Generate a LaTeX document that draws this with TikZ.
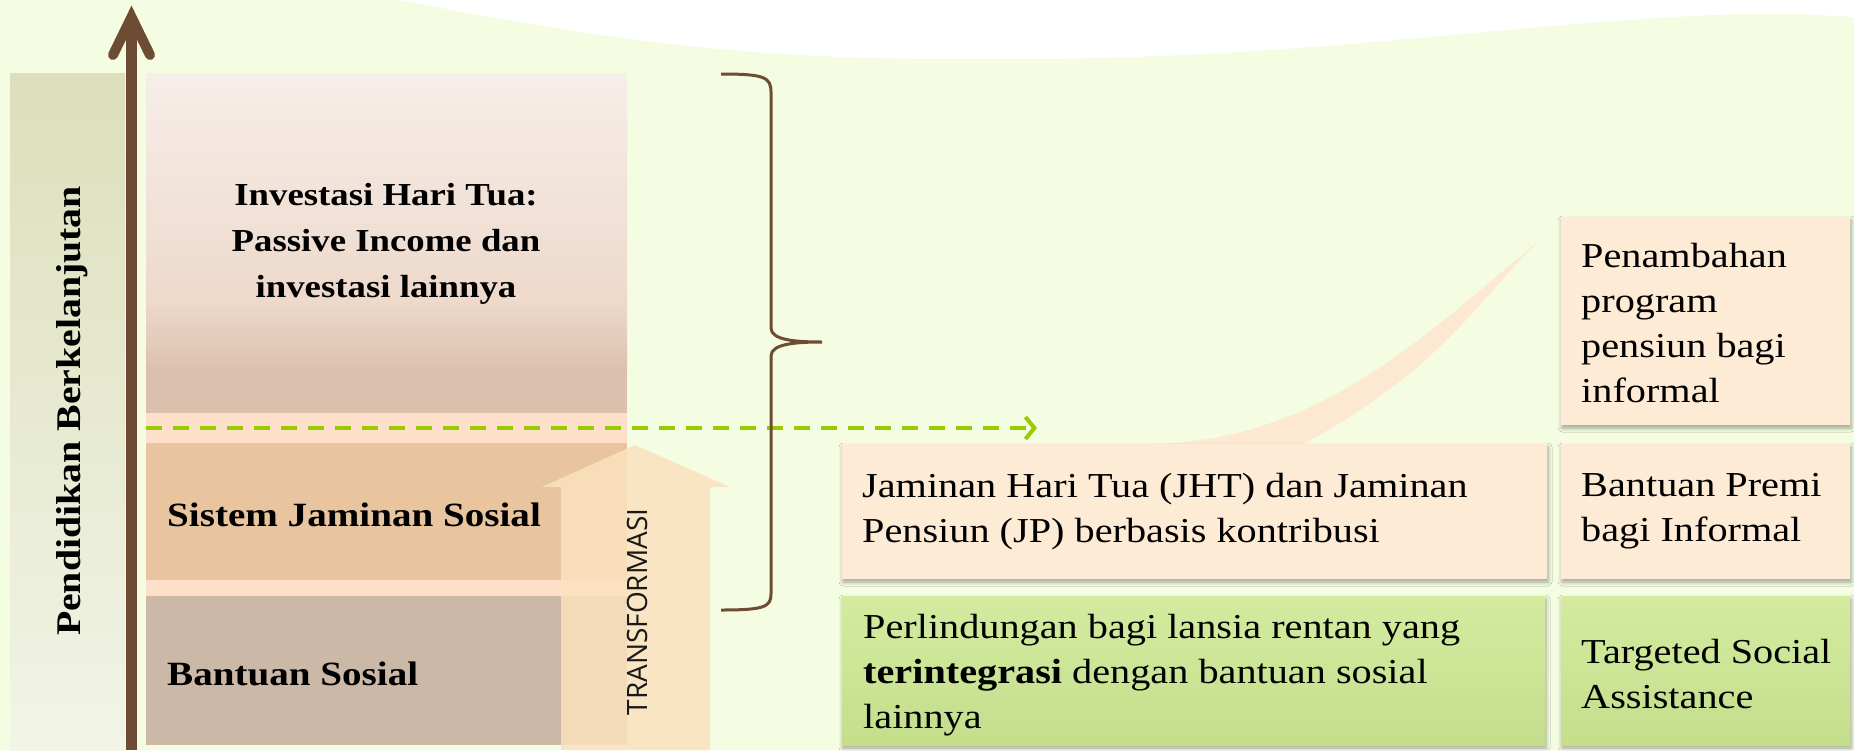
\documentclass[tikz,border=0pt]{standalone}
\usepackage{fontspec}
\setmainfont{Liberation Serif}[FakeStretch=1.15]
\newfontfamily\tsans{Open Sans}
\usetikzlibrary{arrows.meta,shadows.blur}
\definecolor{bg}{HTML}{F4FCE1}
\definecolor{brn}{HTML}{6D4C33}
\definecolor{barTop}{HTML}{DCDFBB}
\definecolor{barBot}{HTML}{F2F4E6}
\definecolor{invA}{HTML}{F6EEE9}
\definecolor{invB}{HTML}{EED9CB}
\definecolor{invC}{HTML}{DCC0AE}
\definecolor{band}{HTML}{FDDFCA}
\definecolor{sjs}{HTML}{E8C59E}
\definecolor{bans}{HTML}{CBB8A7}
\definecolor{lime}{HTML}{99CC00}
\definecolor{peach}{HTML}{FEEBD5}
\definecolor{grnTop}{HTML}{D4EBA0}
\definecolor{grnBot}{HTML}{C4DE8C}
\definecolor{swoosh}{HTML}{FDE8D2}
\definecolor{arrF}{HTML}{FBE2BE}
\tikzset{
  rbox/.style={rectangle, draw=none, inner sep=0pt, outer sep=0pt, anchor=north west,
    blur shadow={shadow xshift=1pt, shadow yshift=-3pt, shadow blur radius=4pt, shadow opacity=35}},
  pbox/.style={rbox, fill=peach},
  gbox/.style={rbox, top color=grnTop, bottom color=grnBot},
  boxtext/.style={anchor=west, align=left, inner sep=0pt, font=\fontsize{35}{45}\selectfont},
  coltext/.style={font=\bfseries\fontsize{34}{44}\selectfont, anchor=west, inner sep=0pt},
}
\begin{document}
\begin{tikzpicture}[x=1pt,y=-1pt]
\useasboundingbox (0,0) rectangle (1854,750);
\fill[bg] (0,0) rectangle (1854,750);
\fill[white] (400,0) .. controls (650,50) and (800,60) .. (975,59) .. controls (1300,62) and (1500,22) .. (1744,14) .. controls (1800,13) and (1830,16) .. (1854,17) -- (1854,0) -- cycle;

% left bar
\fill[top color=barTop,bottom color=barBot] (10,73) rectangle (125,750);
\node[rotate=90, font=\bfseries\fontsize{34.6}{40}\selectfont, inner sep=0pt] (pend) at (72,411) {Pendidikan Berkelanjutan};

% column of levels
\fill[top color=invA,bottom color=invB] (146,73) rectangle (627,301);
\fill[top color=invB,bottom color=invC] (146,300) rectangle (627,371);
\fill[invC] (146,370) rectangle (627,413);
\fill[band] (146,413) rectangle (627,596);
\fill[sjs] (146,443) rectangle (627,580);
\fill[bans] (146,596) rectangle (627,745);

\node[font=\bfseries\fontsize{32}{46}\selectfont, align=center] (inv) at (386,244) {Investasi Hari Tua:\\Passive Income dan\\investasi lainnya};
\node[coltext] (sjst) at (167,515) {Sistem Jaminan Sosial};
\node[coltext] (bst) at (167,674) {Bantuan Sosial};

% transformation arrow
\fill[arrF, fill opacity=0.85] (561,750) -- (561,487) -- (542,487) -- (635,445) -- (730,487) -- (710,487) -- (710,750) -- cycle;
\node[rotate=90, font=\tsans\fontsize{28}{30}\selectfont, inner sep=0pt, text=black!90] (trans) at (637,612) {TRANSFORMASI};

% brown axis arrow
\coordinate (axB) at (131.5,750);
\coordinate (axM) at (131.5,20);
\coordinate (axT) at (131.5,17);
\coordinate (axL) at (113,55);
\coordinate (axR) at (150,55);
\draw[brn, line width=11pt] (axB) -- (axM);
\draw[brn, line width=10pt, line cap=round, line join=miter] (axL) -- (axT) -- (axR);

% dashed arrow
\coordinate (dS) at (146,428);
\coordinate (dE) at (1037,428);
\draw[lime, line width=4.5pt, dash pattern=on 16pt off 11pt, -{Straight Barb[length=9pt,width=22pt,line width=4pt]}] (dS) -- (dE);

% brace
\coordinate (brT) at (721,74);
\coordinate (brM) at (822,342);
\coordinate (brB) at (721,610);
\draw[brn, line width=3pt] (brT) .. controls (764,74) and (771,77) .. (771,92) -- (771,328) .. controls (771,340) and (795,342) .. (brM) .. controls (795,342) and (771,344) .. (771,356) -- (771,594) .. controls (771,607) and (764,610) .. (brB);

% swoosh
\fill[swoosh] (1150,444) .. controls (1330,442) and (1440,320) .. (1562,222) .. controls (1490,275) and (1463,358) .. (1303,444) -- cycle;

% right boxes
\node[pbox, minimum width=705pt, minimum height=135pt] (jht) at (842,444) {};
\node[pbox, minimum width=289pt, minimum height=135pt] (premi) at (1561,444) {};
\node[pbox, minimum width=289pt, minimum height=208pt] (tambah) at (1561,217) {};
\node[gbox, minimum width=703pt, minimum height=149pt] (lindung) at (842,596) {};
\node[gbox, minimum width=289pt, minimum height=149pt] (tsa) at (1561,596) {};

\node[boxtext] (jhtT) at ([xshift=20pt]jht.west) {Jaminan Hari Tua (JHT) dan Jaminan\\Pensiun (JP) berbasis kontribusi};
\node[boxtext] (premiT) at ([xshift=20pt]premi.west) {Bantuan Premi\\bagi Informal};
\node[boxtext] (tambahT) at ([xshift=20pt,yshift=-2pt]tambah.west) {Penambahan\\program\\pensiun bagi\\informal};
\node[boxtext] (lindungT) at ([xshift=21pt,yshift=-5pt]lindung.west) {Perlindungan bagi lansia rentan yang\\\textbf{terintegrasi} dengan bantuan sosial\\lainnya};
\node[boxtext] (tsaT) at ([xshift=20pt,yshift=-4pt]tsa.west) {Targeted Social\\Assistance};
\end{tikzpicture}
\end{document}
